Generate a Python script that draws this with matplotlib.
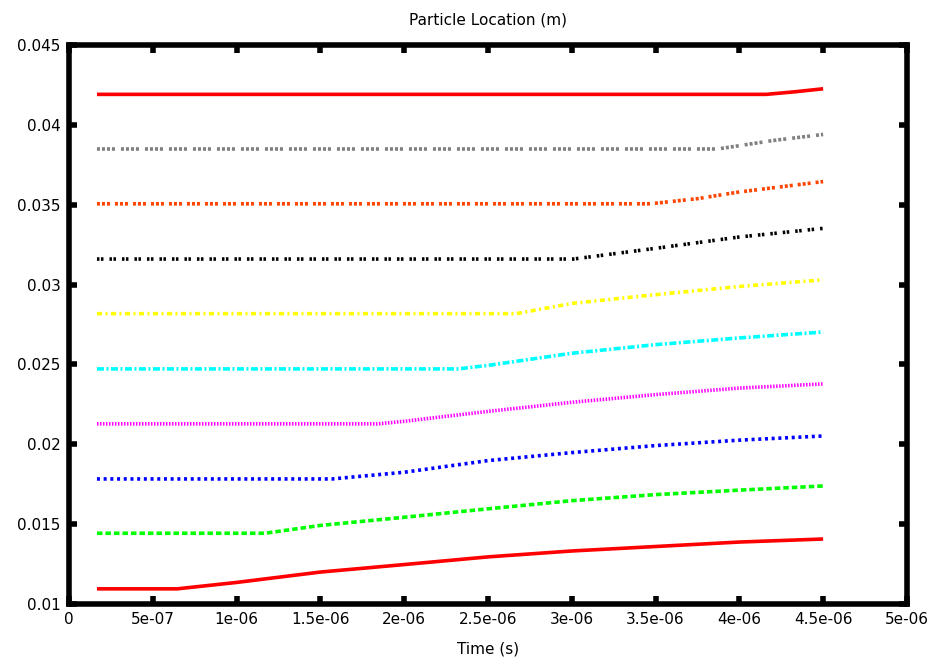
import matplotlib
matplotlib.use("Agg")
import matplotlib.pyplot as plt

plt.rcParams['font.family'] = ['DejaVu Sans']
plt.rcParams['lines.scale_dashes'] = False

# Data (time in s, location in m)
t_red1 = [1.67e-7, 6.45e-7, 1.0e-6, 1.5e-6, 2.0e-6, 2.5e-6, 3.0e-6, 3.5e-6, 4.0e-6, 4.5e-6]
y_red1 = [0.01095, 0.01095, 0.01135, 0.01200, 0.01247, 0.01295, 0.01332, 0.01360, 0.01388, 0.01407]

t_green = [1.67e-7, 1.17e-6, 1.5e-6, 2.0e-6, 2.5e-6, 3.0e-6, 3.5e-6, 4.0e-6, 4.5e-6]
y_green = [0.01443, 0.01443, 0.01492, 0.01543, 0.01596, 0.01647, 0.01685, 0.01713, 0.01739]

t_blue = [1.67e-7, 1.57e-6, 2.0e-6, 2.5e-6, 3.0e-6, 3.5e-6, 4.0e-6, 4.5e-6]
y_blue = [0.01783, 0.01783, 0.01825, 0.01898, 0.01948, 0.01992, 0.02026, 0.02052]

t_mag = [1.67e-7, 1.84e-6, 2.0e-6, 2.5e-6, 3.0e-6, 3.5e-6, 4.0e-6, 4.5e-6]
y_mag = [0.02128, 0.02128, 0.02144, 0.02206, 0.02263, 0.02311, 0.02352, 0.02378]

t_cyan = [1.67e-7, 2.32e-6, 2.5e-6, 3.0e-6, 3.5e-6, 4.0e-6, 4.5e-6]
y_cyan = [0.02472, 0.02472, 0.02494, 0.02570, 0.02624, 0.02666, 0.02703]

t_yel = [1.67e-7, 2.67e-6, 3.0e-6, 3.5e-6, 4.0e-6, 4.5e-6]
y_yel = [0.02818, 0.02818, 0.02882, 0.02937, 0.02988, 0.03030]

t_blk = [1.67e-7, 3.01e-6, 3.5e-6, 4.0e-6, 4.5e-6]
y_blk = [0.03160, 0.03160, 0.03227, 0.03298, 0.03352]

t_org = [1.67e-7, 3.47e-6, 3.75e-6, 4.0e-6, 4.5e-6]
y_org = [0.03506, 0.03506, 0.03538, 0.03580, 0.03645]

t_gray = [1.67e-7, 3.87e-6, 4.2e-6, 4.5e-6]
y_gray = [0.03849, 0.03849, 0.03902, 0.03940]

t_red2 = [1.67e-7, 4.16e-6, 4.33e-6, 4.5e-6]
y_red2 = [0.04191, 0.04191, 0.04207, 0.04226]

xticks = [0, 5e-7, 1e-6, 1.5e-6, 2e-6, 2.5e-6, 3e-6, 3.5e-6, 4e-6, 4.5e-6, 5e-6]
xticklabels = ["0", "5e-07", "1e-06", "1.5e-06", "2e-06", "2.5e-06", "3e-06",
               "3.5e-06", "4e-06", "4.5e-06", "5e-06"]
yticks = [0.01, 0.015, 0.02, 0.025, 0.03, 0.035, 0.04, 0.045]
yticklabels = ["0.01", "0.015", "0.02", "0.025", "0.03", "0.035", "0.04", "0.045"]

px = 0.72  # points per pixel at 100 dpi

fig = plt.figure(figsize=(9.32, 6.62), dpi=100)
ax = fig.add_axes([0.0740, 0.0876, 0.8991, 0.8444])

lw = 2.6
def d(*pix):
    return (0, tuple(p * px for p in pix))

kw = dict(lw=lw, dash_capstyle='butt', solid_capstyle='butt')
ax.plot(t_red1, y_red1, color='#ff0000', ls='-', **kw)
ax.plot(t_green, y_green, color='#00ff00', ls=d(5.5, 3), **kw)
ax.plot(t_blue, y_blue, color='#0000ff', ls=d(3, 3.7), **kw)
ax.plot(t_mag, y_mag, color='#ff00ff', ls=d(1.5, 1.5), **kw)
ax.plot(t_cyan, y_cyan, color='#00ffff', ls=d(7, 2.5, 2, 2.5), **kw)
ax.plot(t_yel, y_yel, color='#ffff00', ls=d(5, 3.5, 2, 3.5), **kw)
ax.plot(t_blk, y_blk, color='#000000', ls=d(2.5, 1.5, 2.5, 6), **kw)
ax.plot(t_org, y_org, color='#ff4500', ls=d(3, 2, 3, 2, 3, 5), **kw)
ax.plot(t_gray, y_gray, color='#808080', ls=d(3, 2, 3, 2, 3, 2, 3, 6), **kw)
ax.plot(t_red2, y_red2, color='#ff0000', ls='-', **kw)

ax.set_xlim(0, 5e-6)
ax.set_ylim(0.01, 0.045)
ax.set_xticks(xticks)
ax.set_xticklabels(xticklabels)
ax.set_yticks(yticks)
ax.set_yticklabels(yticklabels)

for s in ax.spines.values():
    s.set_linewidth(4.0)
ax.tick_params(direction='in', length=6, width=4, top=True, right=True,
               labelsize=11, pad=6, colors='black')
ax.tick_params(axis='x', pad=6)

ax.set_title("Particle Location (m)", fontsize=11, pad=15)
ax.set_xlabel("Time (s)", fontsize=11, labelpad=10)

fig.savefig("out.png", dpi=100)
